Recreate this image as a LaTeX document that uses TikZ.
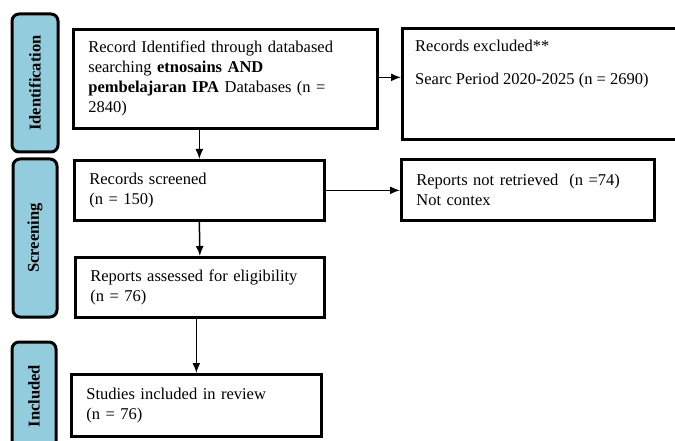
\documentclass[tikz,border=0pt]{standalone}
\usepackage{fontspec}
\setmainfont{Liberation Serif}
\usetikzlibrary{arrows.meta}
\definecolor{pillblue}{HTML}{93CDDD}
\tikzset{
  box/.style={draw=black, line width=2.7pt, fill=white, anchor=north west, inner xsep=14pt, inner ysep=0pt, align=left,
              font=\fontsize{16.5}{20}\selectfont},
  pill/.style={draw=black, line width=3pt, fill=pillblue, rounded corners=7pt, rotate=90, inner sep=0pt,
               font=\fontsize{16.5}{20}\selectfont\bfseries},
  arr/.style={line width=1.5pt, -{Latex[length=10pt,width=8pt]}},
  plain/.style={anchor=north west, inner sep=0pt, align=left, font=\fontsize{16.5}{20}\selectfont}
}
\begin{document}
\begin{tikzpicture}[x=1pt,y=-1pt]
\clip (0,0) rectangle (675,441);
\fill[white] (0,0) rectangle (675,441);
% phase pills
\node[pill, minimum width=138pt, minimum height=46pt] (pid) at (35,83) {Identification};
\node[pill, minimum width=158pt, minimum height=44pt] (psc) at (35,238) {Screening};
\node[pill, minimum width=108pt, minimum height=44pt] (pin) at (34,396) {Included};
% boxes
\node[box, minimum width=304pt, minimum height=99pt, text width=274pt] (b1) at (72,28)
  {Record Identified through databased\\searching \textbf{etnosains AND}\\\textbf{pembelajaran IPA} Databases (n =\\2840)};
\node[box, minimum width=290pt, minimum height=111pt] (excl) at (401,27) {};
\node[plain] (excltext) at (415,40) {Records excluded**\\[13pt]Searc Period 2020-2025 (n = 2690)};
\node[box, minimum width=250pt, minimum height=60pt, text width=220pt] (scr) at (73,159)
  {Records screened\\(n = 150)};
\node[box, minimum width=253pt, minimum height=61pt, text width=223pt] (nret) at (400,158)
  {Reports not retrieved~~(n =74)\\Not contex};
\node[box, minimum width=249pt, minimum height=60pt, text width=219pt] (ass) at (74,256)
  {Reports assessed for eligibility\\(n = 76)};
\node[box, minimum width=250pt, minimum height=62pt, text width=220pt] (stu) at (70,373)
  {Studies included in review\\(n = 76)};
% connectors
\draw[arr] ([yshift=1.5pt]b1.east) -- ([yshift=1.5pt]b1.east -| excl.west);
\draw[arr] (scr.north |- b1.south) -- (scr.north);
\draw[arr] (scr.east) -- (scr.east -| nret.west);
\draw[arr] (scr.south) -- (ass.north);
\draw[arr] (ass.south -| stu.north) -- (stu.north);
\end{tikzpicture}
\end{document}
